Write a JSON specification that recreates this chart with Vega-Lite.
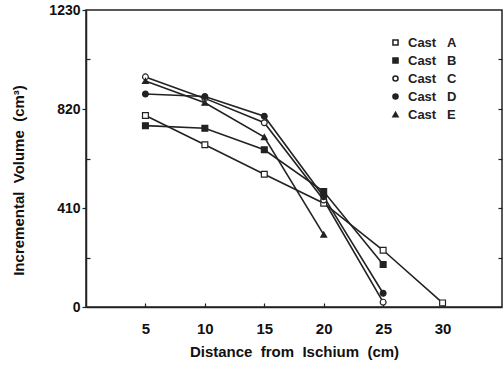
{
  "$schema": "https://vega.github.io/schema/vega-lite/v6.json",
  "autosize": "none",
  "width": 416,
  "height": 297,
  "padding": {"left": 86, "top": 10, "right": 2, "bottom": 62},
  "background": "white",
  "config": {
    "view": {"stroke": "#222", "strokeWidth": 1.5},
    "font": "Liberation Sans"
  },
  "data": {
    "values": [
      {"d": 5, "v": 793, "cast": "A"},
      {"d": 10, "v": 672, "cast": "A"},
      {"d": 15, "v": 550, "cast": "A"},
      {"d": 20, "v": 430, "cast": "A"},
      {"d": 25, "v": 235, "cast": "A"},
      {"d": 30, "v": 17, "cast": "A"},
      {"d": 5, "v": 751, "cast": "B"},
      {"d": 10, "v": 740, "cast": "B"},
      {"d": 15, "v": 651, "cast": "B"},
      {"d": 20, "v": 478, "cast": "B"},
      {"d": 25, "v": 176, "cast": "B"},
      {"d": 5, "v": 953, "cast": "C"},
      {"d": 10, "v": 864, "cast": "C"},
      {"d": 15, "v": 763, "cast": "C"},
      {"d": 20, "v": 443, "cast": "C"},
      {"d": 25, "v": 20, "cast": "C"},
      {"d": 5, "v": 882, "cast": "D"},
      {"d": 10, "v": 872, "cast": "D"},
      {"d": 15, "v": 790, "cast": "D"},
      {"d": 20, "v": 457, "cast": "D"},
      {"d": 25, "v": 57, "cast": "D"},
      {"d": 5, "v": 936, "cast": "E"},
      {"d": 10, "v": 846, "cast": "E"},
      {"d": 15, "v": 704, "cast": "E"},
      {"d": 20, "v": 300, "cast": "E"}
    ]
  },
  "resolve": {"axis": {"y": "independent"}},
  "layer": [
    {
      "mark": {"type": "line", "color": "#222", "strokeWidth": 1.6},
      "encoding": {
        "x": {
          "field": "d", "type": "quantitative",
          "scale": {"domain": [0, 35], "nice": false, "zero": false},
          "axis": {
            "values": [5, 10, 15, 20, 25, 30],
            "grid": false,
            "domainColor": "#222", "domainWidth": 1.5,
            "tickColor": "#222", "tickSize": -4, "tickWidth": 1.2,
            "labelFont": "Liberation Sans", "labelFontSize": 15, "labelFontWeight": "bold", "labelColor": "#111",
            "labelPadding": 18,
            "title": "Distance\u00a0\u00a0from\u00a0\u00a0Ischium\u00a0\u00a0(cm)",
            "titleFont": "Liberation Sans", "titleFontSize": 15, "titleFontWeight": "bold", "titleColor": "#111",
            "titlePadding": 8
          }
        },
        "y": {
          "field": "v", "type": "quantitative",
          "scale": {"domain": [0, 1230], "nice": false},
          "axis": {
            "orient": "left",
            "values": [0, 205, 410, 615, 820, 1025, 1230],
            "labelExpr": "datum.value % 410 === 0 ? datum.label : ''",
            "format": "d",
            "grid": false,
            "domainColor": "#222", "domainWidth": 1.5,
            "tickColor": "#222", "tickWidth": 1.2,
            "tickSize": {"condition": {"test": "datum.value % 410 === 0", "value": 4}, "value": -4},
            "labelFont": "Liberation Sans", "labelFontSize": 14, "labelFontWeight": "bold", "labelColor": "#111",
            "labelPadding": 2,
            "title": "Incremental\u00a0\u00a0Volume\u00a0\u00a0(cm³)",
            "titleFont": "Liberation Sans", "titleFontSize": 15, "titleFontWeight": "bold", "titleColor": "#111",
            "titleX": -68, "titleY": 170, "titleAngle": -90, "titleAlign": "center", "titleBaseline": "middle"
          }
        },
        "detail": {"field": "cast"}
      }
    },
    {
      "mark": {"type": "point", "filled": true, "stroke": "#222", "strokeWidth": 1.2, "opacity": 1, "size": 34},
      "encoding": {
        "x": {"field": "d", "type": "quantitative"},
        "y": {
          "field": "v", "type": "quantitative",
          "axis": {
            "orient": "right",
            "values": [205, 410, 615, 820, 1025],
            "labels": false,
            "title": null,
            "grid": false,
            "domain": false,
            "tickColor": "#222", "tickWidth": 1.2, "tickSize": -4
          }
        },
        "shape": {
          "field": "cast", "type": "nominal",
          "scale": {"domain": ["A", "B", "C", "D", "E"], "range": ["square", "square", "circle", "circle", "triangle-up"]},
          "legend": {
            "orient": "none", "legendX": 303, "legendY": 26,
            "title": null,
            "labelExpr": "'Cast\u00a0\u00a0\u00a0' + datum.label",
            "labelFont": "Liberation Sans", "labelFontSize": 13, "labelFontWeight": "bold", "labelColor": "#222",
            "symbolSize": 26,
            "rowPadding": 4, "labelOffset": 6,
            "encode": {"symbols": {"update": {"stroke": {"value": "#222"}, "strokeWidth": {"value": 1.2}}}}
          }
        },
        "fill": {
          "field": "cast", "type": "nominal",
          "scale": {"domain": ["A", "B", "C", "D", "E"], "range": ["white", "#222", "white", "#222", "#222"]},
          "legend": {
            "orient": "none", "legendX": 303, "legendY": 26,
            "title": null,
            "labelExpr": "'Cast\u00a0\u00a0\u00a0' + datum.label",
            "labelFont": "Liberation Sans", "labelFontSize": 13, "labelFontWeight": "bold", "labelColor": "#222",
            "symbolSize": 26,
            "rowPadding": 4, "labelOffset": 6,
            "encode": {"symbols": {"update": {"stroke": {"value": "#222"}, "strokeWidth": {"value": 1.2}}}}
          }
        }
      }
    }
  ]
}
